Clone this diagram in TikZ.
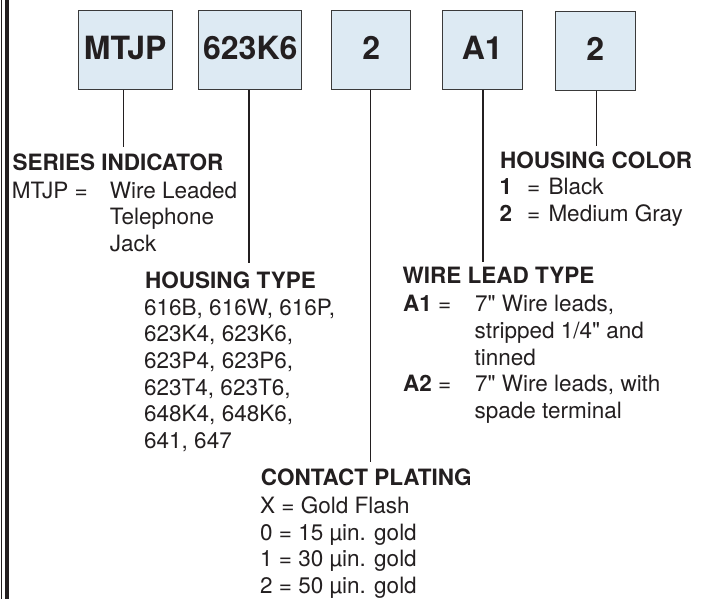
\documentclass[tikz,border=0pt]{standalone}
\usepackage{fontspec}
\setmainfont{TeX Gyre Heros}[Ligatures=TeXOff]
\definecolor{ink}{HTML}{231F20}
\definecolor{boxfill}{RGB}{221,234,243}
\definecolor{boxline}{HTML}{3A3A3A}
\begin{document}
\begin{tikzpicture}[x=1pt,y=-1pt,
  code/.style={draw=boxline, line width=1pt, fill=boxfill, inner sep=0pt,
    font=\fontsize{32}{32}\selectfont\bfseries, text=ink,
    text height=22.8pt, text depth=5pt, minimum height=79pt},
  txt/.style={anchor=base west, inner sep=0pt, text=ink,
    font=\fontsize{22.5}{26.7}\selectfont},
  head/.style={txt, font=\fontsize{22.5}{26.7}\selectfont\bfseries},
  stem/.style={draw=ink, line width=1.4pt},
  rule/.style={draw=ink}]
\useasboundingbox (0,0) rectangle (705,599);

% left border
\draw[rule, line width=0.8pt] (1.6,0) -- (1.6,599);
\draw[rule, line width=3.6pt] (7,0) -- (7,599);

% code boxes
\node[code, minimum width=94.3pt]  (b1) at (125.2,50.5) {MTJP};
\node[code, minimum width=102.7pt] (b2) at (250.3,50.5) {623K6};
\node[code, minimum width=79.3pt]  (b3) at (371.3,50.5) {2};
\node[code, minimum width=79.7pt]  (b4) at (482.2,50.5) {A1};
\node[code, minimum width=79.7pt]  (b5) at (595.2,51.5) {2};

% stem ends
\coordinate (e1) at (123.3,146.7);
\coordinate (e2) at (249,263);
\coordinate (e3) at (370.3,461.7);
\coordinate (e4) at (483,262);
\coordinate (e5) at (596.7,146);

\draw[stem] (b1.south -| e1) -- (e1);
\draw[stem] (b2.south -| e2) -- (e2);
\draw[stem] (b3.south -| e3) -- (e3);
\draw[stem] (b4.south -| e4) -- (e4);
\draw[stem] (b5.south -| e5) -- (e5);

% series indicator
\node[head] (siH) at (12.4,171) {SERIES INDICATOR};
\node[txt] (si0) at (11.6,198.3) {MTJP =};
\node[txt] (si1) at (109.7,198.3) {Wire Leaded};
\node[txt] (si2) at (109.7,225) {Telephone};
\node[txt] (si3) at (109.7,251.7) {Jack};

% housing type
\node[head] (htH) at (145,288.3) {HOUSING TYPE};
\node[txt] (ht1) at (144,315) {616B, 616W, 616P,};
\node[txt] (ht2) at (144,341.7) {623K4, 623K6,};
\node[txt] (ht3) at (144,368.3) {623P4, 623P6,};
\node[txt] (ht4) at (144,395) {623T4, 623T6,};
\node[txt] (ht5) at (144,421.7) {648K4, 648K6,};
\node[txt] (ht6) at (144,448.3) {641, 647};

% contact plating
\node[head] (cpH) at (260.7,485) {CONTACT PLATING};
\node[txt] (cp1) at (260,513.3) {X = Gold Flash};
\node[txt] (cp2) at (260,540) {0 = 15 µin. gold};
\node[txt] (cp3) at (260,566.7) {1 = 30 µin. gold};
\node[txt] (cp4) at (260,593.3) {2 = 50 µin. gold};

% housing color
\node[head] (hcH) at (500,168.3) {HOUSING COLOR};
\node[txt] (hc1k) at (499.5,195) {\bfseries 1};
\node[txt] (hc1e) at (527,195) {=};
\node[txt] (hc1v) at (548.3,195) {Black};
\node[txt] (hc2k) at (499.5,221.7) {\bfseries 2};
\node[txt] (hc2e) at (527,221.7) {=};
\node[txt] (hc2v) at (548.3,221.7) {Medium Gray};

% wire lead type
\node[head] (wlH) at (402.5,283.3) {WIRE LEAD TYPE};
\node[txt] (wl1k) at (403,311.7) {\textbf{A1} =};
\node[txt] (wl1a) at (475,311.7) {7" Wire leads,};
\node[txt] (wl1b) at (474.5,338.3) {stripped 1/4" and};
\node[txt] (wl1c) at (474.5,365) {tinned};
\node[txt] (wl2k) at (403,391.7) {\textbf{A2} =};
\node[txt] (wl2a) at (475,391.7) {7" Wire leads, with};
\node[txt] (wl2b) at (474.5,418.3) {spade terminal};
\end{tikzpicture}
\end{document}
